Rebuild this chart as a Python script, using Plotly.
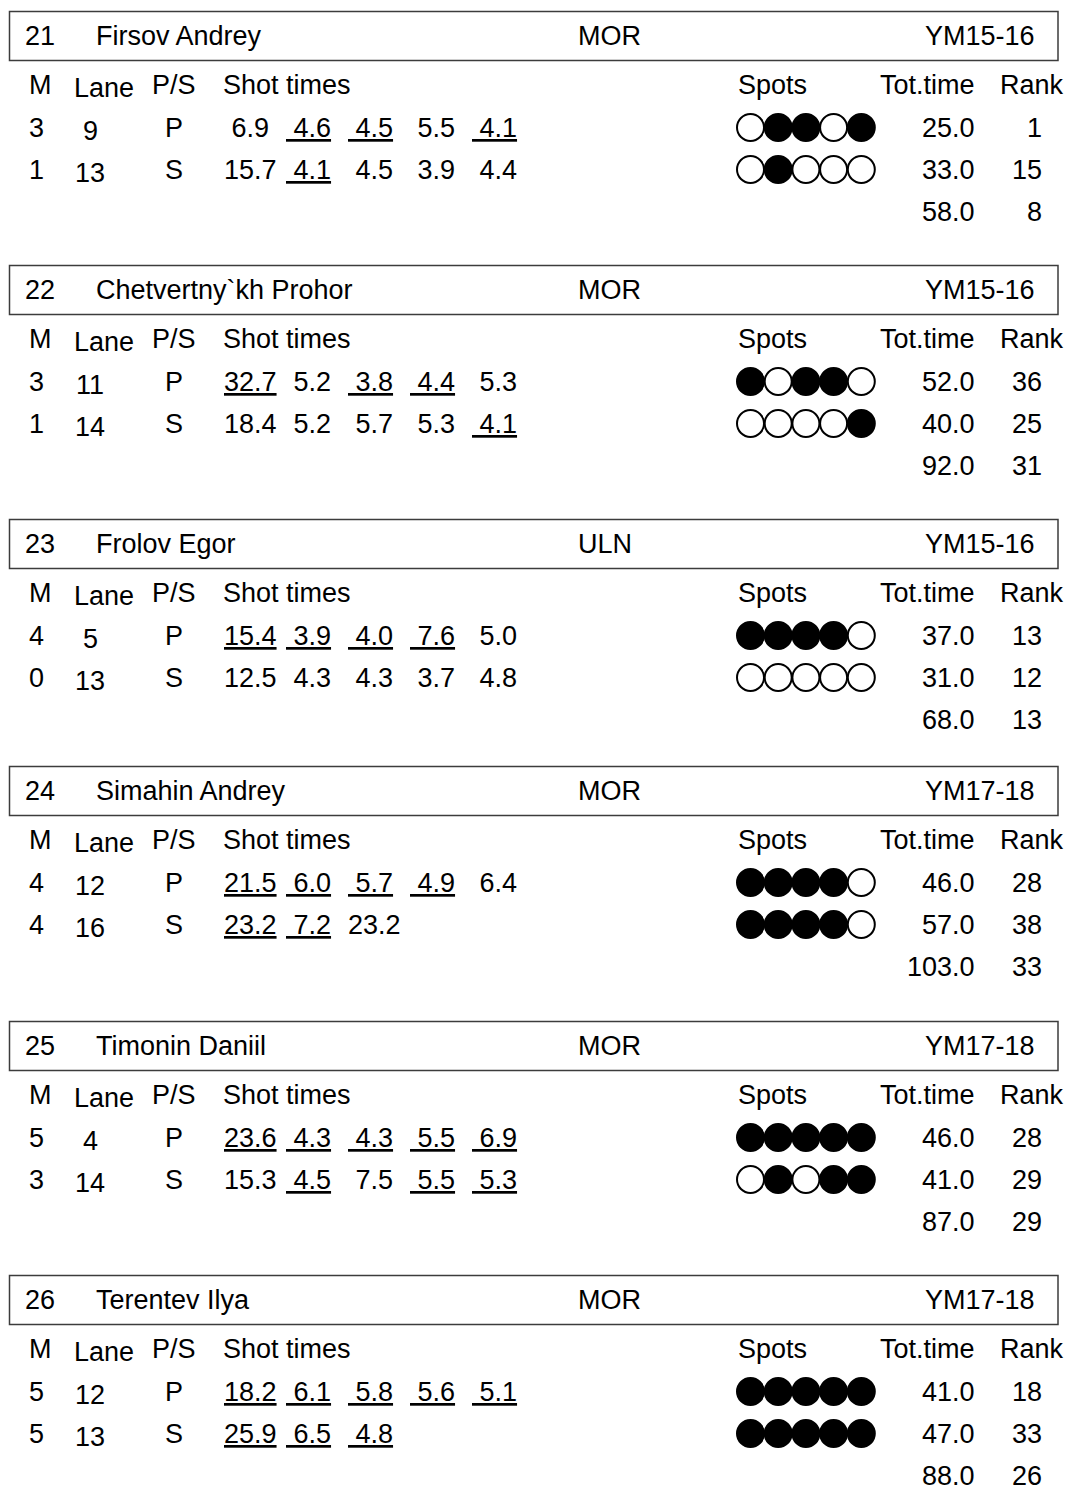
import plotly.graph_objects as go

# ---------------- data ----------------
bibs = [21, 22, 23, 24, 25, 26]
names = ["Firsov Andrey", "Chetvertny`kh Prohor", "Frolov Egor",
         "Simahin Andrey", "Timonin Daniil", "Terentev Ilya"]
teams = ["MOR", "MOR", "ULN", "MOR", "MOR", "MOR"]
classes = ["YM15-16", "YM15-16", "YM15-16", "YM17-18", "YM17-18", "YM17-18"]

col_headers = ["M", "Lane", "P/S", "Shot times", "Spots", "Tot.time", "Rank"]
positions = ["P", "S"]

prone_m = [3, 3, 4, 4, 5, 5]
prone_lane = [9, 11, 5, 12, 4, 12]
prone_shots = [[6.9, 4.6, 4.5, 5.5, 4.1],
               [32.7, 5.2, 3.8, 4.4, 5.3],
               [15.4, 3.9, 4.0, 7.6, 5.0],
               [21.5, 6.0, 5.7, 4.9, 6.4],
               [23.6, 4.3, 4.3, 5.5, 6.9],
               [18.2, 6.1, 5.8, 5.6, 5.1]]
prone_underlined = [[0, 1, 1, 0, 1],
                    [1, 0, 1, 1, 0],
                    [1, 1, 1, 1, 0],
                    [1, 1, 1, 1, 0],
                    [1, 1, 1, 1, 1],
                    [1, 1, 1, 1, 1]]
prone_spots = [[0, 1, 1, 0, 1],
               [1, 0, 1, 1, 0],
               [1, 1, 1, 1, 0],
               [1, 1, 1, 1, 0],
               [1, 1, 1, 1, 1],
               [1, 1, 1, 1, 1]]
prone_time = [25.0, 52.0, 37.0, 46.0, 46.0, 41.0]
prone_rank = [1, 36, 13, 28, 28, 18]

stand_m = [1, 1, 0, 4, 3, 5]
stand_lane = [13, 14, 13, 16, 14, 13]
stand_shots = [[15.7, 4.1, 4.5, 3.9, 4.4],
               [18.4, 5.2, 5.7, 5.3, 4.1],
               [12.5, 4.3, 4.3, 3.7, 4.8],
               [23.2, 7.2, 23.2],
               [15.3, 4.5, 7.5, 5.5, 5.3],
               [25.9, 6.5, 4.8]]
stand_underlined = [[0, 1, 0, 0, 0],
                    [0, 0, 0, 0, 1],
                    [0, 0, 0, 0, 0],
                    [1, 1, 0],
                    [0, 1, 0, 1, 1],
                    [1, 1, 1]]
stand_spots = [[0, 1, 0, 0, 0],
               [0, 0, 0, 0, 1],
               [0, 0, 0, 0, 0],
               [1, 1, 1, 1, 0],
               [0, 1, 0, 1, 1],
               [1, 1, 1, 1, 1]]
stand_time = [33.0, 40.0, 31.0, 57.0, 41.0, 47.0]
stand_rank = [15, 25, 12, 38, 29, 33]

total_time = [58.0, 92.0, 68.0, 103.0, 87.0, 88.0]
total_rank = [8, 31, 13, 33, 29, 26]

# ---------------- layout constants (page pixels) ----------------
W, H = 1065, 1488
FONT = "Liberation Sans, Arial, sans-serif"
FS = 27
BLOCK_TOP = [11.5, 265.5, 519.5, 766.5, 1021.5, 1275.5]
BOX_L, BOX_R, BOX_H = 9.5, 1058, 49
DY_HEAD, DY_COLS, DY_R1, DY_R2, DY_TOT, DY_LANE = 24.5, 73.5, 116, 158, 200.5, 3
X_BIB, X_NAME, X_TEAM, X_CLASS = 23.5, 95, 577, 1036
X_M, X_LANE, X_PS, X_SHOT, SHOT_STEP = 28, 90, 174, 222.5, 62
X_LANE_HDR = 73
X_SPOTS_HDR, X_TOT, X_RANK_HDR, X_RANK = 737, 976, 999, 1043
SPOT_X0, SPOT_STEP = 750.5, 27.7

NB = "\u00a0"

fig = go.Figure()
ann = []
shapes = []


def txt(x, y, s, anchor="left"):
    ann.append(dict(x=x, y=y, xref="x", yref="y", text=s, showarrow=False,
                    xanchor=anchor, yanchor="middle", borderpad=0,
                    font=dict(family=FONT, size=FS, color="black")))


def fmt_shot(v, u):
    s = f"{v:.1f}"
    if v < 10:
        s = NB + s
    return f"<u>{s}</u>" if u else s


spot_x, spot_y, spot_fill = [], [], []

for b in range(len(bibs)):
    T = BLOCK_TOP[b]
    shapes.append(dict(type="rect", xref="x", yref="y", x0=BOX_L, x1=BOX_R,
                       y0=T, y1=T + BOX_H, line=dict(color="#3c3c3c", width=1.5)))
    yh = T + DY_HEAD
    txt(X_BIB, yh, str(bibs[b]))
    txt(X_NAME, yh, names[b])
    txt(X_TEAM, yh, teams[b])
    txt(X_CLASS, yh, classes[b], "right")

    yc = T + DY_COLS
    txt(X_M, yc, col_headers[0])
    txt(X_LANE_HDR, yc + DY_LANE, col_headers[1])
    txt(X_PS, yc, col_headers[2], "center")
    txt(X_SHOT - 1, yc, col_headers[3])
    txt(X_SPOTS_HDR, yc, col_headers[4])
    txt(X_TOT, yc, col_headers[5], "right")
    txt(X_RANK_HDR, yc, col_headers[6])

    rows = [
        (prone_m[b], prone_lane[b], positions[0], prone_shots[b], prone_underlined[b],
         prone_spots[b], prone_time[b], prone_rank[b], T + DY_R1),
        (stand_m[b], stand_lane[b], positions[1], stand_shots[b], stand_underlined[b],
         stand_spots[b], stand_time[b], stand_rank[b], T + DY_R2),
    ]
    for m, lane, ps, shots, und, spots, tt, rk, y in rows:
        txt(X_M, y, str(m))
        txt(X_LANE, y + DY_LANE, str(lane), "center")
        txt(X_PS, y, ps, "center")
        for i, (v, u) in enumerate(zip(shots, und)):
            txt(X_SHOT + i * SHOT_STEP, y, fmt_shot(v, u))
        for i, f in enumerate(spots):
            spot_x.append(SPOT_X0 + i * SPOT_STEP)
            spot_y.append(y)
            spot_fill.append("black" if f else "white")
        spot_x.append(None)
        spot_y.append(None)
        spot_fill.append("white")
        txt(X_TOT, y, f"{tt:.1f}", "right")
        txt(X_RANK, y, str(rk), "right")

    yt = T + DY_TOT
    txt(X_TOT, yt, f"{total_time[b]:.1f}", "right")
    txt(X_RANK, yt, str(total_rank[b]), "right")

fig.add_trace(go.Scatter(
    x=spot_x, y=spot_y, mode="markers", hoverinfo="skip", showlegend=False,
    marker=dict(size=27, color=spot_fill, line=dict(color="black", width=2)),
))

fig.update_layout(
    width=W, height=H, margin=dict(l=0, r=0, t=0, b=0),
    paper_bgcolor="white", plot_bgcolor="white",
    xaxis=dict(range=[0, W], visible=False, fixedrange=True),
    yaxis=dict(range=[H, 0], visible=False, fixedrange=True),
    annotations=ann, shapes=shapes, showlegend=False,
)

fig.write_html(
    "out.html",
    config={"displayModeBar": False},
    post_script="document.body.style.margin='0';"
                "document.documentElement.style.overflow='hidden';",
)
